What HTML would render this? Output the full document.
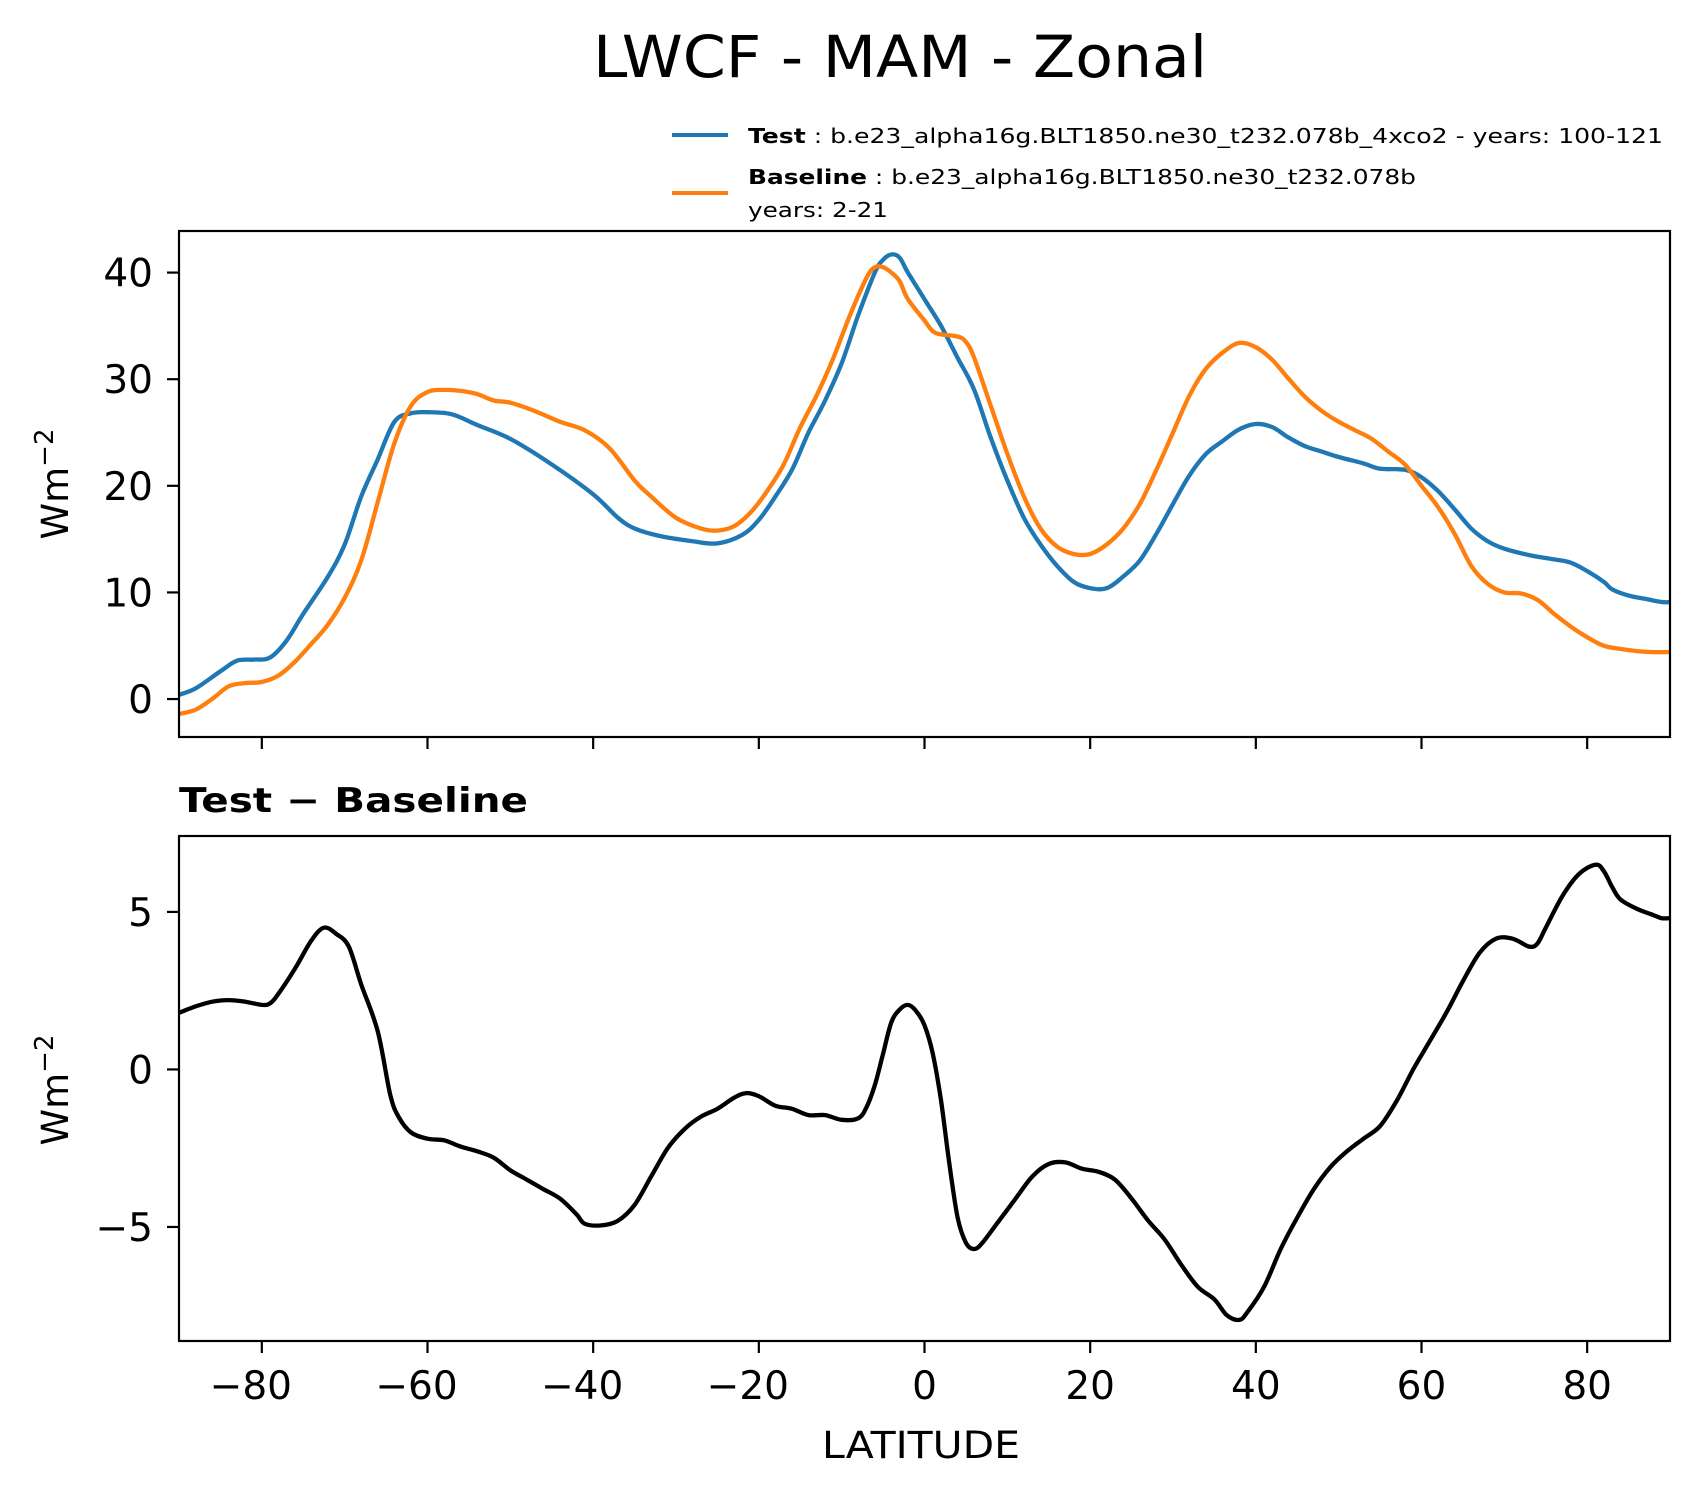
<!DOCTYPE html>
<html><head><meta charset="utf-8"><style>
html,body{margin:0;padding:0;background:#fff;}
svg{display:block;font-family:"DejaVu Sans","Liberation Sans",sans-serif;}
</style></head><body>
<svg id="fig" width="1696" height="1496" viewBox="0 0 1696 1496" xmlns="http://www.w3.org/2000/svg">
<rect width="1696" height="1496" fill="#fff"/>
<text x="900" y="77" font-size="58" text-anchor="middle" textLength="614" lengthAdjust="spacingAndGlyphs">LWCF - MAM - Zonal</text>
<g>
<line x1="672" y1="135" x2="728" y2="135" stroke="#1f77b4" stroke-width="4"/>
<text x="748" y="143" font-size="20" textLength="915" lengthAdjust="spacingAndGlyphs"><tspan font-weight="bold">Test</tspan> : b.e23_alpha16g.BLT1850.ne30_t232.078b_4xco2 - years: 100-121</text>
<line x1="672" y1="193" x2="728" y2="193" stroke="#ff7f0e" stroke-width="4"/>
<text x="748" y="184" font-size="20" textLength="668" lengthAdjust="spacingAndGlyphs"><tspan font-weight="bold">Baseline</tspan> : b.e23_alpha16g.BLT1850.ne30_t232.078b</text>
<text x="748" y="217" font-size="20" textLength="140" lengthAdjust="spacingAndGlyphs">years: 2-21</text>
</g>
<g id="top"></g>
<g id="bot"></g>
<text x="179" y="812" font-size="34" font-weight="bold" textLength="349" lengthAdjust="spacingAndGlyphs">Test − Baseline</text>
<text x="921" y="1458" font-size="37" text-anchor="middle" textLength="198" lengthAdjust="spacingAndGlyphs">LATITUDE</text>
</svg>
<script>
const lats=[-90,-88,-85,-83,-81,-79,-77,-75,-72,-70,-68,-66,-64,-62,-60,-57,-54,-50,-45,-40,-37,-35,-32,-28,-25,-22,-20,-18,-16,-14,-12,-10,-8,-6,-5,-4,-3,-2,0,2,4,6,8,10,12,14,16,18,20,22,24,26,28,30,32,34,36,38,40,42,44,46,48,50,53,55,58,60,62,64,66,68,70,73,76,78,80,82,83,85,87,89,90];
const testVals=[0.4,1.0,2.6,3.6,3.7,3.9,5.5,8.0,11.5,14.5,19,22.5,26,26.8,26.9,26.7,25.7,24.4,22,19.2,17,16,15.3,14.8,14.6,15.4,16.8,19,21.5,25,28,31.5,36,40,41.2,41.7,41.4,40,37.5,35,32,29,24.5,20.5,17,14.5,12.5,11,10.4,10.4,11.5,13,15.5,18.3,21,23,24.2,25.3,25.8,25.5,24.5,23.7,23.2,22.7,22.1,21.6,21.5,20.8,19.5,17.8,16,14.8,14.1,13.5,13.1,12.8,12,11,10.3,9.7,9.4,9.1,9.1];
const baseLats=[-90,-88,-86,-84,-82,-80,-78,-76,-74,-72,-70,-68,-66,-64,-62,-60,-58,-56,-54,-52,-50,-47,-44,-41,-38,-35,-33,-30,-27,-25,-23,-21,-19,-17,-15,-13,-11,-9,-7,-6,-5,-4,-3,-2,0,1,2,4,5,6,8,10,12,14,16,18,20,22,24,26,28,30,32,34,36,38,40,42,44,46,48,50,52,54,56,58,60,62,64,66,68,70,72,74,76,78,80,82,84,86,88,90];
const baseVals=[-1.4,-1.0,0,1.2,1.5,1.6,2.2,3.5,5.2,7,9.5,13,18.5,24,27.5,28.8,29,28.9,28.6,28,27.8,27,26,25.2,23.5,20.5,19,17,16,15.8,16.2,17.5,19.5,22,25.5,28.5,32,36,39.5,40.5,40.5,40,39.2,37.5,35.5,34.5,34.2,34,33.5,32,27.5,23,19,16,14.3,13.6,13.6,14.5,16,18.3,21.5,25,28.5,31,32.5,33.4,33,31.8,30,28.3,27,26,25.2,24.4,23.2,22,20,18,15.5,12.5,10.8,10,9.9,9.3,8,6.8,5.8,5,4.7,4.5,4.4,4.4];
const diffLats=[-90,-88,-86,-84,-82,-80,-79,-78,-76,-74,-72.5,-71,-69.5,-68,-66,-64.5,-63.5,-62,-60,-58,-56,-54,-52,-50,-48,-46,-44,-42,-41,-39,-37,-35,-33,-31,-29,-27,-25,-23,-21.5,-20,-18,-16,-14,-12,-10,-8,-7,-6,-5,-4,-3,-2,-1,0,1,2,3,4,5,6,7,9,11,13,15,17,19,21,23,25,27,29,31,33,35,36.5,38,39,41,43,45,47,49,51,53,55,57,59,61,63,65,67,69,71,73,74,75,77,79,81,82,83,84,86,88,89,90];
const diffVals=[1.8,2.0,2.15,2.2,2.15,2.05,2.1,2.4,3.2,4.1,4.5,4.3,3.9,2.7,1.2,-0.8,-1.5,-2.0,-2.2,-2.25,-2.45,-2.6,-2.8,-3.2,-3.5,-3.8,-4.1,-4.6,-4.9,-4.95,-4.8,-4.3,-3.4,-2.5,-1.9,-1.5,-1.25,-0.9,-0.75,-0.85,-1.15,-1.25,-1.45,-1.45,-1.6,-1.55,-1.2,-0.5,0.5,1.5,1.9,2.05,1.85,1.4,0.5,-1.0,-3.0,-4.7,-5.5,-5.7,-5.5,-4.8,-4.1,-3.4,-3.0,-2.95,-3.15,-3.25,-3.5,-4.1,-4.8,-5.4,-6.2,-6.9,-7.3,-7.8,-7.95,-7.7,-6.9,-5.7,-4.7,-3.8,-3.1,-2.6,-2.2,-1.8,-1.0,0,0.9,1.8,2.8,3.7,4.15,4.15,3.9,4.0,4.5,5.5,6.2,6.5,6.3,5.8,5.4,5.1,4.9,4.8,4.8];
const xTicks=[-80,-60,-40,-20,0,20,40,60,80];
const topTicks=[0,10,20,30,40];
const botTicks=[-5,0,5];

const NS="http://www.w3.org/2000/svg";
const L=179,R=1670;
function xs(v){return L+(v+90)/180*(R-L);}
function mk(tag,attrs,parent){const e=document.createElementNS(NS,tag);for(const k in attrs)e.setAttribute(k,attrs[k]);parent.appendChild(e);return e;}
function axes(g,top,bot,ymin,ymax,ticks,showXLabels,prefix){
  const ys=v=>bot-(v-ymin)/(ymax-ymin)*(bot-top);
  const clip=mk('clipPath',{id:prefix+'clip'},g);
  mk('rect',{x:L,y:top,width:R-L,height:bot-top},clip);
  ticks.forEach(t=>{
    const tl=mk('line',{x1:L-12,x2:L,y1:ys(t),y2:ys(t),stroke:'#000','stroke-width':2.2},g);
    
    
    const tx=mk('text',{x:L-26,y:ys(t)+14,'font-size':39,'text-anchor':'end'},g);
    tx.textContent=t<0?'\u2212'+(-t):String(t);
    
    
  });
  xTicks.forEach(t=>{
    const tl=mk('line',{x1:xs(t),x2:xs(t),y1:bot,y2:bot+12,stroke:'#000','stroke-width':2.2},g);
    
    
    if(showXLabels){
      const tx=mk('text',{x:xs(t)-(t<0?11:0),y:1399,'font-size':39,'text-anchor':'middle'},g);
      tx.textContent=t<0?'\u2212'+(-t):String(t);
      
      
    }
  });
  return ys;
}
function line(g,xsArr,vals,ys,color,name,prefix){
  const P=xsArr.map((x,i)=>[xs(x),ys(vals[i])]);
  let d='M'+P[0][0].toFixed(1)+','+P[0][1].toFixed(1);
  for(let i=0;i<P.length-1;i++){
    const p0=P[Math.max(i-1,0)],p1=P[i],p2=P[i+1],p3=P[Math.min(i+2,P.length-1)];
    const c1=[p1[0]+(p2[0]-p0[0])/6,p1[1]+(p2[1]-p0[1])/6];
    const c2=[p2[0]-(p3[0]-p1[0])/6,p2[1]-(p3[1]-p1[1])/6];
    d+=' C'+c1[0].toFixed(1)+','+c1[1].toFixed(1)+' '+c2[0].toFixed(1)+','+c2[1].toFixed(1)+' '+p2[0].toFixed(1)+','+p2[1].toFixed(1);
  }
  const p=mk('path',{d:d,fill:'none',stroke:color,'stroke-width':4.3,'stroke-linejoin':'round','clip-path':'url(#'+prefix+'clip)'},g);
  
  
}
function frame(g,top,bot){
  const r=mk('rect',{x:L,y:top,width:R-L,height:bot-top,fill:'none',stroke:'#000','stroke-width':2.2},g);
  
  
}
function ylabel(g,cy){
  const t=mk('text',{x:0,y:0,'font-size':37,'text-anchor':'middle',transform:'translate(68,'+cy+') rotate(-90)'},g);
  t.innerHTML='Wm<tspan dy="-15" font-size="26">\u22122</tspan>';
  
  
}
const gt=document.getElementById('top');
const ysT=axes(gt,231,737,-3.56,43.9,topTicks,false,'t');
line(gt,lats,testVals,ysT,'#1f77b4','test-line','t');
line(gt,baseLats,baseVals,ysT,'#ff7f0e','baseline-line','t');
frame(gt,231,737);
ylabel(gt,484);
const gb=document.getElementById('bot');
const ysB=axes(gb,836,1341,-8.62,7.41,botTicks,true,'b');
line(gb,diffLats,diffVals,ysB,'#000','difference-line','b');
frame(gb,836,1341);
ylabel(gb,1090);
</script>
</body></html>
